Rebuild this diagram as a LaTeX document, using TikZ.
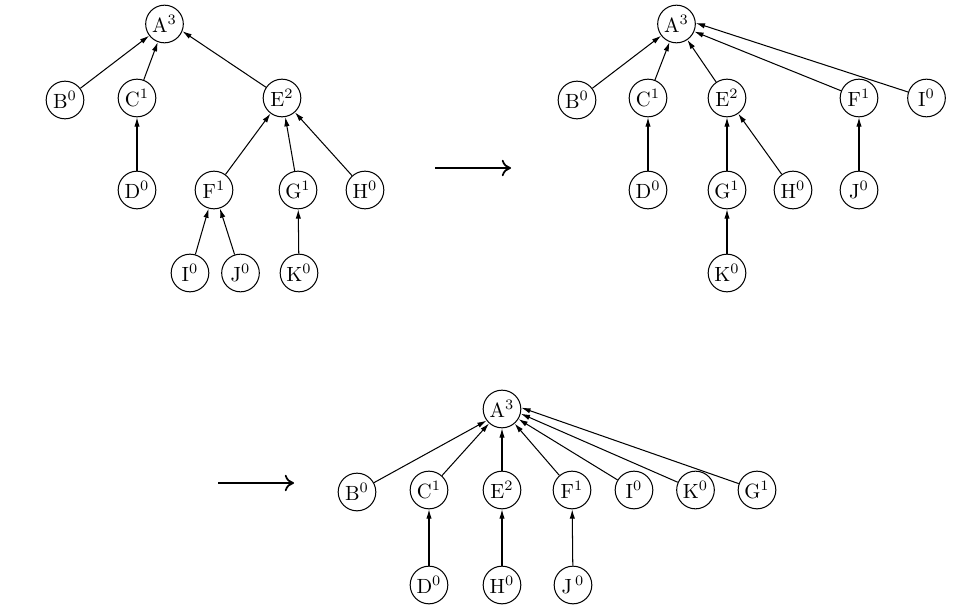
\documentclass[tikz,border=0pt]{standalone}
\usetikzlibrary{arrows.meta}
\begin{document}
\begin{tikzpicture}[x=0.486pt,y=-0.486pt,
  vtx/.style={draw,circle,minimum size=18.3pt,inner sep=0pt,line width=0.5pt},
  edge/.style={-{Latex[length=4.5pt,width=2.6pt]},line width=0.5pt},
  bigarrow/.style={-{To[length=4.5pt,width=8pt]},line width=0.85pt}]
\useasboundingbox (0,0) rectangle (955,615);
% Tree 1
\node[vtx] (a1) at (164.5,24) {A$^3$};
\node[vtx] (b1) at (65,100) {B$^0$};
\node[vtx] (c1) at (137,98) {C$^1$};
\node[vtx] (e1) at (282,98) {E$^2$};
\node[vtx] (d1) at (137,190) {D$^0$};
\node[vtx] (f1) at (214,190) {F$^1$};
\node[vtx] (g1) at (298,190) {G$^1$};
\node[vtx] (h1) at (365,190) {H$^0$};
\node[vtx] (i1) at (190,273) {I$^0$};
\node[vtx] (j1) at (240.5,273) {J$^0$};
\node[vtx] (k1) at (299,273) {K$^0$};
\foreach \s/\t in {b1/a1,c1/a1,d1/c1,f1/e1,g1/e1,h1/e1,i1/f1,j1/f1,k1/g1}
  \draw[edge] (\s) -- (\t);
\draw[edge] (e1) -- (a1.-22);
% Arrow 1
\coordinate (p1) at (435,168);
\coordinate (q1) at (511,168);
\draw[bigarrow] (p1) -- (q1);
% Tree 2
\node[vtx] (a2) at (676.5,24) {A$^3$};
\node[vtx] (b2) at (577,100) {B$^0$};
\node[vtx] (c2) at (648,98) {C$^1$};
\node[vtx] (e2) at (727,98) {E$^2$};
\node[vtx] (f2) at (859,98) {F$^1$};
\node[vtx] (i2) at (926.5,98) {I$^0$};
\node[vtx] (d2) at (648,190) {D$^0$};
\node[vtx] (g2) at (727,190) {G$^1$};
\node[vtx] (h2) at (793,190) {H$^0$};
\node[vtx] (j2) at (859,190) {J$^0$};
\node[vtx] (k2) at (727,273) {K$^0$};
\foreach \s/\t in {b2/a2,c2/a2,e2/a2,d2/c2,g2/e2,h2/e2,j2/f2,k2/g2}
  \draw[edge] (\s) -- (\t);
\draw[edge] (f2) -- (a2.-23);
\draw[edge] (i2) -- (a2.3);
% Arrow 2
\coordinate (p2) at (218,483);
\coordinate (q2) at (294,483);
\draw[bigarrow] (p2) -- (q2);
% Tree 3
\node[vtx] (a3) at (502,409) {A$^3$};
\node[vtx] (b3) at (357,492) {B$^0$};
\node[vtx] (c3) at (429,490) {C$^1$};
\node[vtx] (e3) at (502,490) {E$^2$};
\node[vtx] (f3) at (572,490) {F$^1$};
\node[vtx] (i3) at (634,490) {I$^0$};
\node[vtx] (k3) at (695.5,490) {K$^0$};
\node[vtx] (g3) at (757,490) {G$^1$};
\node[vtx] (d3) at (429,585) {D$^0$};
\node[vtx] (h3) at (502,585) {H$^0$};
\node[vtx] (j3) at (573,585) {J$^{\,0}$};
\foreach \s/\t in {c3/a3,e3/a3,f3/a3,i3/a3,d3/c3,h3/e3,j3/f3}
  \draw[edge] (\s) -- (\t);
\draw[edge] (b3) -- (a3.-143);
\draw[edge] (k3) -- (a3.-14);
\draw[edge] (g3) -- (a3.4);
\end{tikzpicture}
\end{document}
